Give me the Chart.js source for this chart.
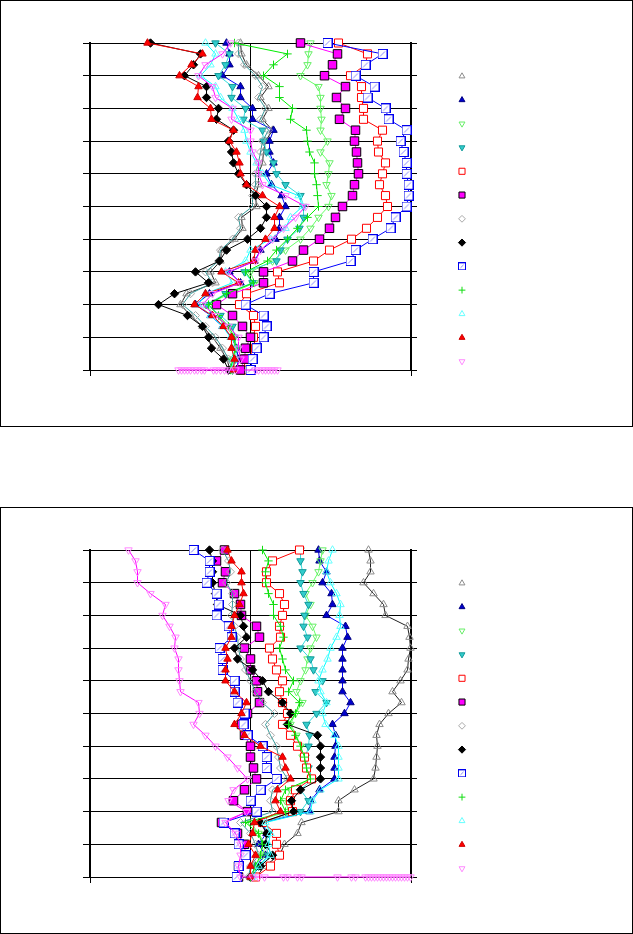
<!DOCTYPE html>
<html><head><meta charset="utf-8">
<script src="https://cdn.jsdelivr.net/npm/chart.js@4/dist/chart.umd.min.js"></script>
<style>
html,body{margin:0;padding:0;background:#fff;}
.panel{position:absolute;left:0;width:633px;height:427px;}
.panel canvas{position:absolute;left:0;top:0;}
.frame{position:absolute;left:0;top:0;width:633px;height:427px;box-sizing:border-box;border:1px solid #000;pointer-events:none;}
</style></head><body>
<div class="panel" style="top:0"><canvas id="c1" width="633" height="427"></canvas><div class="frame"></div></div>
<div class="panel" style="top:507px"><canvas id="c2" width="633" height="427"></canvas><div class="frame"></div></div>
<script>
// ---- depth levels (y) ----
const depths = [0,1,2,3,4,5,6,7,8,9,10,11,12,13,14,15,16,17,18,19,20,21,22,23,24,25,26,27,28,29,30];
const xTicks = [-160.5, 0, 160.5];

// ---- upper panel series ----
const topGrayTri   = [-10,-9,-4,8,18,10,18,12,22,15,13,12,8,8,5,6,-9,-8,-16,-29,-30,-40,-35,-64,-70,-60,-48,-38,-30,-24,-20];
const topBlueTri   = [-24,-21,-21,-28,-10,-10,2,2,23,19,19,23,16,21,31,35,29,29,25,10,4,-21,-10,-41,-55,-40,-28,-19,-14,-12,-14];
const topLGreenInv = [60,58,57,50,68,70,70,71,70,77,70,79,78,76,81,78,68,60,50,35,22,0,4,-20,-45,-35,-24,-17,-15,-17,-18];
const topTealInv   = [-35,-21,-25,-32,-18,-19,-5,-7,12,13,16,23,26,35,50,53,53,49,37,30,26,-6,2,-25,-44,-30,-18,-16,-14,-15,-18];
const topRedSq     = [88,117,115,100,111,111,113,113,132,127,128,135,132,129,135,137,127,116,101,79,63,27,29,-4,-11,3,5,3,5,-4,-8];
const topMagSq     = [50,87,82,74,95,86,95,89,105,104,106,107,108,104,102,92,85,79,69,53,42,13,13,-18,-34,-18,-8,0,-5,-6,-10];
const topGrayDia   = [-12,-12,-6,5,12,8,15,10,18,12,10,8,5,5,2,2,-12,-10,-18,-30,-32,-45,-38,-60,-68,-55,-45,-35,-28,-22,-18];
const topBlackDia  = [-100,-50,-57,-66,-44,-44,-32,-34,-17,-22,-19,-17,-12,-4,5,16,16,10,-3,-24,-31,-55,-42,-76,-92,-63,-48,-42,-39,-27,-22];
const topBlueBoxX  = [77,132,115,105,124,117,135,138,156,150,153,156,156,158,158,156,145,140,122,105,100,63,63,19,-5,13,16,13,6,2,0];
const topGreenPlus = [-16,37,23,13,29,29,42,40,56,57,59,64,64,66,67,68,57,47,37,26,17,-5,3,-24,-42,-32,-22,-16,-15,-18,-20];
const topCyanTri   = [-45,-35,-40,-50,-35,-30,-18,-12,-6,-4,0,6,12,20,48,52,40,35,20,0,-5,-25,-18,-45,-52,-40,-28,-20,-18,-17,-18];
const topRedTri    = [-103,-48,-59,-71,-52,-53,-40,-39,-17,-21,-14,-11,-10,-4,12,29,24,24,15,5,3,-29,-12,-45,-56,-38,-27,-19,-19,-16,-17];
const topPinkInv   = [-20,-28,-45,-52,-38,-35,-18,-19,0,0,2,8,8,12,35,55,45,33,22,10,5,-22,-10,-38,-48,-35,-22,-12,-12,-10,-15];
const topPinkFloor = [-72,-69,-66,-63,-60,-56,-53,-49,-46,-37,-34,-30,-26,-23,5,8,12,15,18,21,24,27];

// ---- lower panel series ----
const botGrayTri   = [118,120,120,113,123,133,135,157,159,160,158,157,150,142,151,138,129,126,127,126,125,123,104,88,88,51,47,34,29,14,6];
const botBlueTri   = [68,69,76,72,81,82,76,95,97,92,92,92,92,92,100,94,82,85,85,84,84,84,69,60,59,12,16,8,15,5,0];
const botLGreenInv = [72,70,68,62,55,60,55,62,66,60,57,55,50,46,52,45,40,46,50,52,56,60,40,35,38,0,8,15,12,5,2];
const botTealInv   = [50,50,52,50,53,58,54,53,57,50,60,63,72,65,76,66,56,59,58,55,58,62,50,58,50,12,18,15,18,8,2];
const botRedSq     = [49,22,16,16,29,34,32,29,30,19,22,26,32,29,32,37,32,40,47,54,56,61,45,40,42,12,26,26,29,20,5];
const botMagSq     = [-26,-34,-25,-28,-16,-10,-9,6,9,-6,0,0,6,7,9,-3,-9,-6,0,0,3,6,-6,-17,-3,-29,-13,-6,-5,-12,-12];
const botGrayDia   = [-28,-22,-20,-24,-18,-18,-19,-16,-13,-12,-10,-5,0,5,12,24,15,20,26,28,30,37,22,20,22,-10,0,5,8,0,-2];
const botBlackDia  = [-41,-38,-38,-38,-35,-33,-10,-7,-4,-16,-13,2,12,18,32,40,37,67,70,70,70,70,50,41,43,10,16,15,22,10,0];
const botBlueBoxX  = [-57,-41,-41,-44,-34,-32,-34,-22,-19,-31,-28,-28,-16,-16,-13,-6,-7,-3,12,16,16,26,10,0,6,-27,-16,-12,-5,-12,-14];
const botGreenPlus = [12,18,15,15,18,23,23,30,33,29,32,35,43,38,49,45,38,45,50,54,56,60,35,30,35,-5,8,12,10,5,0];
const botCyanTri   = [82,78,76,80,86,90,89,90,86,80,77,72,68,70,76,72,75,84,88,88,88,88,70,62,60,15,20,18,20,8,2];
const botRedTri    = [-23,-19,-9,-9,-7,-11,-16,-19,-19,-25,-23,-25,-25,-16,-4,-9,-16,-6,10,32,35,40,27,25,30,4,2,-2,5,0,0];
const botPinkInv   = [-122,-115,-113,-113,-100,-85,-88,-81,-75,-76,-72,-72,-71,-70,-52,-51,-57,-45,-35,-23,-13,-3,-17,-22,-4,-25,-15,-10,-10,-12,-10];
const botPinkFloor = [2,8,14,33,37,47,51,87,101,105,115,118,121,124,127,130,133,136,139,142,145,148,151,154,157,160];

// ---- marker glyph for the boxed-x series ----
function boxX(size) {
  const c = document.createElement('canvas');
  c.width = size; c.height = size;
  const g = c.getContext('2d');
  g.fillStyle = '#fff'; g.fillRect(0,0,size,size);
  g.strokeStyle = '#0000EE'; g.lineWidth = 1;
  g.strokeRect(0.5,0.5,size-1,size-1);
  g.strokeStyle = '#8888FF';
  g.beginPath(); g.moveTo(2.5,size-2.5); g.lineTo(size-2.5,2.5); g.stroke();
  return c;
}
const boxBig = boxX(10), boxSmall = boxX(8);

const T = 'rgba(0,0,0,0)';
const styles = [
  {ps:'triangle', rot:0,   fill:T,         stroke:'#8C8C8C', line:'#222222', r:4.3, lr:3.4},
  {ps:'triangle', rot:0,   fill:'#0000CC', stroke:'#000080', line:'#0000FF', r:4.3, lr:3.4},
  {ps:'triangle', rot:180, fill:T,         stroke:'#66EE66', line:'#66FF66', r:4.3, lr:3.4},
  {ps:'triangle', rot:180, fill:'#33CCCC', stroke:'#119999', line:'#33DDDD', r:4.3, lr:3.4},
  {ps:'rect',     rot:0,   fill:'#FFFFFF', stroke:'#FF0000', line:'#FF0000', r:5.7, lr:4.3},
  {ps:'rect',     rot:0,   fill:'#FF00FF', stroke:'#000000', line:'#FF00FF', r:6, lr:4.3},
  {ps:'rectRot',  rot:0,   fill:T,         stroke:'#A8A8A8', line:'#339999', r:4, lr:3.4},
  {ps:'rectRot',  rot:0,   fill:'#000000', stroke:'#000000', line:'#000000', r:4.2, lr:3.6},
  {ps:boxBig,     rot:0,   fill:'#FFFFFF', stroke:'#0000FF', line:'#0000FF', r:5, lr:4, lps:boxSmall},
  {ps:'cross',    rot:0,   fill:T,         stroke:'#11DD11', line:'#00EE00', r:4.2, lr:3.4},
  {ps:'triangle', rot:0,   fill:T,         stroke:'#66FFFF', line:'#00FFFF', r:4.3, lr:3.4},
  {ps:'triangle', rot:0,   fill:'#FF0000', stroke:'#CC0000', line:'#FF0000', r:4.3, lr:3.4},
  {ps:'triangle', rot:180, fill:T,         stroke:'#FF88FF', line:'#FF00FF', r:4.3, lr:3.4}
];

function buildDatasets(seriesList, floorList) {
  return seriesList.map((xs, i) => {
    const s = styles[i];
    const data = xs.map((x, k) => ({x: x, y: depths[k]}));
    if (i === seriesList.length - 1) {
      floorList.forEach(x => data.push({x: x, y: depths[depths.length - 1]}));
    }
    return {
      label: 'Series ' + (i + 1),
      data: data,
      showLine: true,
      borderColor: s.line,
      borderWidth: 1,
      backgroundColor: s.fill,
      pointStyle: s.ps,
      pointRotation: s.rot,
      pointRadius: s.r,
      pointHoverRadius: s.r,
      pointBackgroundColor: s.fill,
      pointBorderColor: s.stroke,
      pointBorderWidth: 1,
      tension: 0,
      clip: false,
      order: seriesList.length - 1 - i
    };
  });
}

const markerLegend = {
  id: 'markerLegend',
  afterDraw(chart) {
    const ctx = chart.ctx;
    const lx = 462, ly0 = 76.2, step = 23.77;
    styles.forEach((s, i) => {
      ctx.save();
      ctx.lineWidth = 1;
      ctx.strokeStyle = s.stroke;
      ctx.fillStyle = s.fill;
      Chart.helpers.drawPoint(ctx, {
        pointStyle: s.lps || s.ps, rotation: s.rot, radius: s.lr, borderWidth: 1
      }, lx, ly0 + i * step);
      ctx.restore();
    });
  }
};

function makeChart(id, seriesList, floorList) {
  return new Chart(document.getElementById(id), {
    type: 'scatter',
    data: { datasets: buildDatasets(seriesList, floorList) },
    options: {
      responsive: false,
      animation: false,
      devicePixelRatio: 1,
      events: [],
      layout: { padding: { left: 83, right: 216, top: 43, bottom: 51 } },
      plugins: { legend: { display: false }, tooltip: { enabled: false } },
      scales: {
        x: {
          type: 'linear', position: 'bottom', min: xTicks[0], max: xTicks[2],
          afterBuildTicks: (sc) => { sc.ticks = xTicks.map(v => ({value: v})); },
          ticks: { display: false },
          grid: {
            color: '#000', lineWidth: 1, drawTicks: true, tickLength: 6,
            tickColor: (c) => (c.tick && c.tick.value === 0) ? 'rgba(0,0,0,0)' : '#000'
          },
          border: { display: true, color: '#000', width: 1 }
        },
        y: {
          type: 'linear', position: 'left', reverse: true, min: depths[0], max: depths[depths.length - 1],
          ticks: { display: false, stepSize: 3 },
          grid: { color: '#000', lineWidth: 1, drawTicks: true, tickLength: 7 },
          border: { display: true, color: '#000', width: 2 }
        },
        y2: {
          type: 'linear', position: 'right', reverse: true, min: depths[0], max: depths[depths.length - 1],
          ticks: { display: false, stepSize: 3 },
          grid: { color: '#000', lineWidth: 1, drawOnChartArea: false, drawTicks: true, tickLength: 6 },
          border: { display: true, color: '#000', width: 2 }
        }
      }
    },
    plugins: [markerLegend]
  });
}

makeChart('c1',
  [topGrayTri, topBlueTri, topLGreenInv, topTealInv, topRedSq, topMagSq, topGrayDia, topBlackDia, topBlueBoxX, topGreenPlus, topCyanTri, topRedTri, topPinkInv],
  topPinkFloor);
makeChart('c2',
  [botGrayTri, botBlueTri, botLGreenInv, botTealInv, botRedSq, botMagSq, botGrayDia, botBlackDia, botBlueBoxX, botGreenPlus, botCyanTri, botRedTri, botPinkInv],
  botPinkFloor);
</script>
</body></html>
